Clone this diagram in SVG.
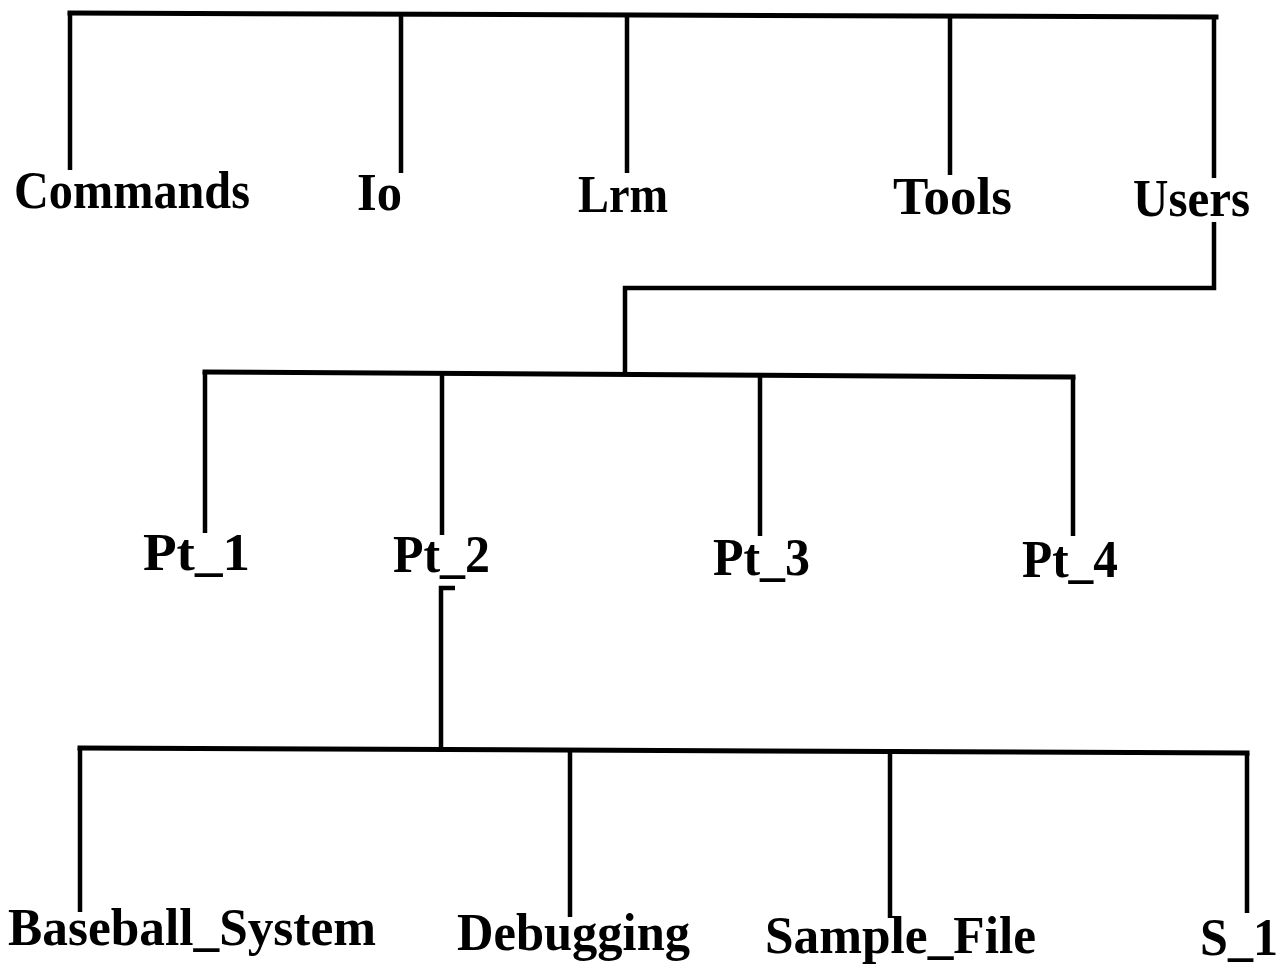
<svg xmlns="http://www.w3.org/2000/svg" width="1280" height="975" viewBox="0 0 1280 975">
<style>
.lbl{font-family:"Liberation Serif","Times New Roman",serif;font-weight:bold;font-size:52px;fill:#000}
.bar{stroke:#000;stroke-width:5;fill:none;stroke-linecap:square}
.ln{stroke:#000;stroke-width:4.5;fill:none;stroke-linecap:butt}
</style>
<rect width="1280" height="975" fill="#fff"/>
<g id="connectors">
<line class="bar" x1="70" y1="13" x2="1216" y2="17"/>
<line class="ln" x1="70" y1="13" x2="70" y2="170"/>
<line class="ln" x1="401" y1="15" x2="401" y2="173"/>
<line class="ln" x1="627" y1="15" x2="627" y2="173"/>
<line class="ln" x1="950" y1="16" x2="950" y2="175"/>
<line class="ln" x1="1214" y1="17" x2="1214" y2="178"/>
<polyline class="ln" points="1214,222 1214,288 625,288 625,375"/>
<line class="bar" x1="205" y1="372" x2="1073" y2="377"/>
<line class="ln" x1="205" y1="372" x2="205" y2="533"/>
<line class="ln" x1="442" y1="373" x2="442" y2="535"/>
<line class="ln" x1="760" y1="375" x2="760" y2="536"/>
<line class="ln" x1="1073" y1="377" x2="1073" y2="536"/>
<polyline class="ln" points="455,588 441,588 441,750"/>
<line class="bar" x1="80" y1="748" x2="1247" y2="753"/>
<line class="ln" x1="80" y1="748" x2="80" y2="912"/>
<line class="ln" x1="570" y1="750" x2="570" y2="917"/>
<line class="ln" x1="890" y1="751" x2="890" y2="918"/>
<line class="ln" x1="1247" y1="753" x2="1247" y2="913"/>
</g>
<g id="commands"><text class="lbl" x="14" y="208" textLength="236" lengthAdjust="spacingAndGlyphs">Commands</text></g>
<g id="io"><text class="lbl" x="357" y="210" textLength="45" lengthAdjust="spacingAndGlyphs">Io</text></g>
<g id="lrm"><text class="lbl" x="578" y="212" textLength="90" lengthAdjust="spacingAndGlyphs">Lrm</text></g>
<g id="tools"><text class="lbl" x="893" y="214" textLength="119" lengthAdjust="spacingAndGlyphs">Tools</text></g>
<g id="users"><text class="lbl" x="1133" y="216" textLength="117" lengthAdjust="spacingAndGlyphs">Users</text></g>
<g id="pt1"><text class="lbl" x="143" y="570" textLength="107" lengthAdjust="spacingAndGlyphs">Pt_1</text></g>
<g id="pt2"><text class="lbl" x="393" y="572" textLength="97" lengthAdjust="spacingAndGlyphs">Pt_2</text></g>
<g id="pt3"><text class="lbl" x="713" y="575" textLength="97" lengthAdjust="spacingAndGlyphs">Pt_3</text></g>
<g id="pt4"><text class="lbl" x="1022" y="577" textLength="96" lengthAdjust="spacingAndGlyphs">Pt_4</text></g>
<g id="baseball_system"><text class="lbl" x="8" y="945" textLength="368" lengthAdjust="spacingAndGlyphs">Baseball_System</text></g>
<g id="debugging"><text class="lbl" x="457" y="950" textLength="233" lengthAdjust="spacingAndGlyphs">Debugging</text></g>
<g id="sample_file"><text class="lbl" x="765" y="953" textLength="271" lengthAdjust="spacingAndGlyphs">Sample_File</text></g>
<g id="s_1"><text class="lbl" x="1200" y="955" textLength="78" lengthAdjust="spacingAndGlyphs">S_1</text></g>
</svg>
